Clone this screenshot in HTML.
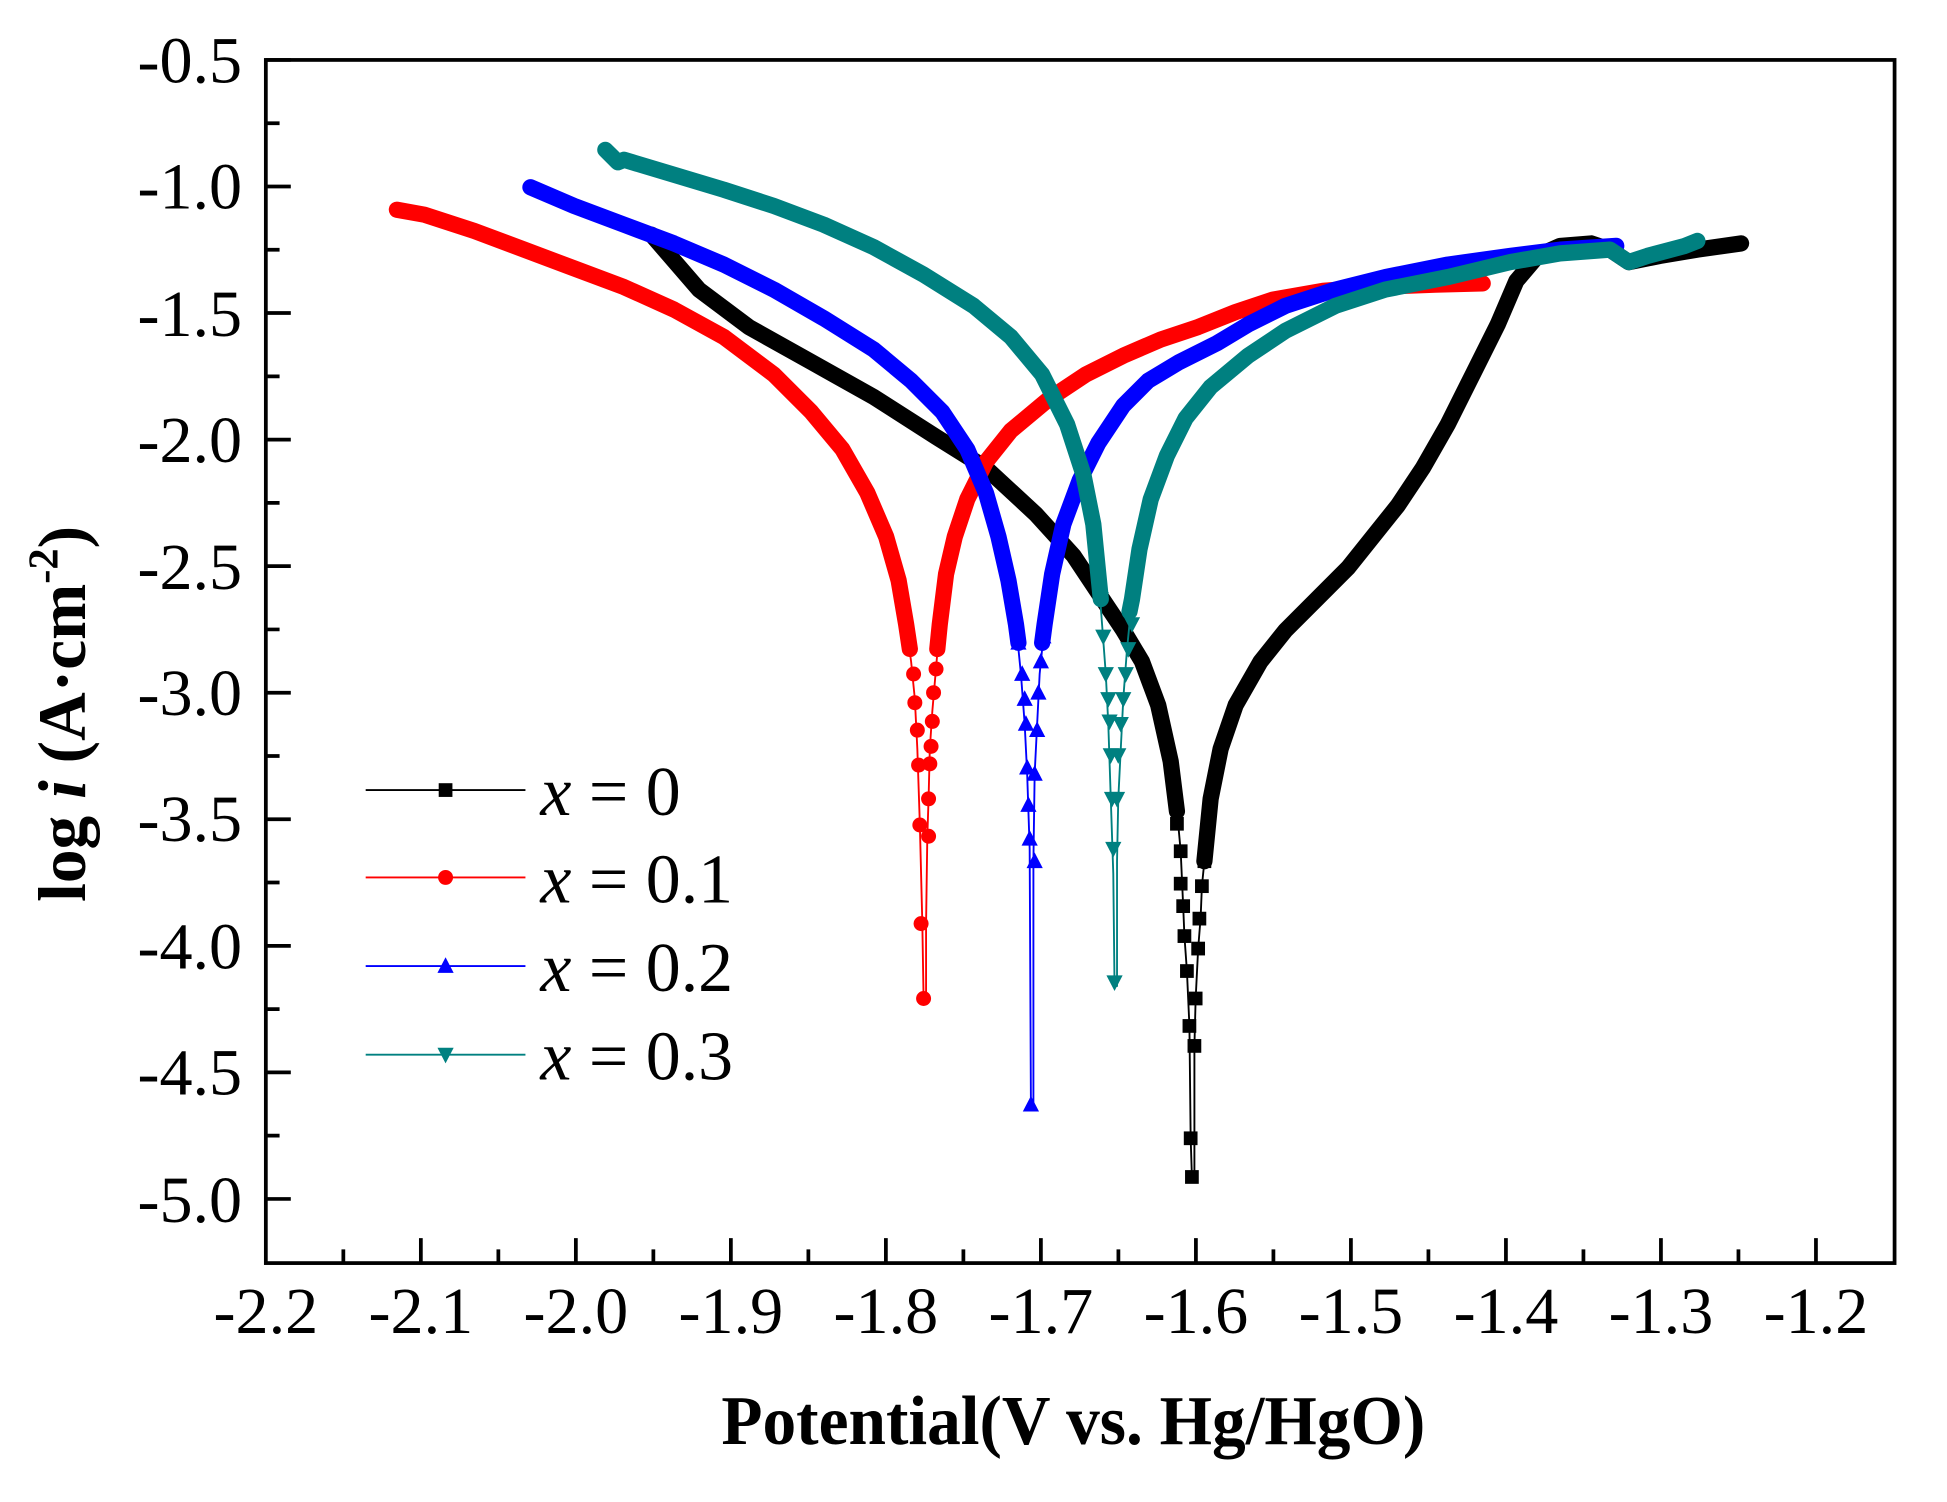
<!DOCTYPE html>
<html><head><meta charset="utf-8"><style>html,body{margin:0;padding:0;background:#fff}svg{display:block}</style></head>
<body>
<svg width="1947" height="1502" viewBox="0 0 1560 1203.4" xmlns="http://www.w3.org/2000/svg" font-family="'Liberation Serif', serif">
<defs>
<rect id="sq" x="-5.5" y="-5.5" width="11" height="11" fill="#000"/>
<circle id="ci" r="6" fill="#f00"/>
<polygon id="tu" points="0,-7 6.5,5.5 -6.5,5.5" fill="#00f"/>
<polygon id="td" points="0,7 6.5,-5.5 -6.5,-5.5" fill="#008080"/>
</defs>
<rect width="1560" height="1204" fill="#fff"/>
<rect x="213" y="48" width="1305" height="964" fill="none" stroke="#000" stroke-width="3"/>
<g stroke="#000" stroke-width="3">
<path d="M213 48h20M213 149.4h20M213 250.8h20M213 352.2h20M213 453.6h20M213 555h20M213 656.4h20M213 757.8h20M213 859.2h20M213 960.6h20"/>
<path d="M213 98.7h11M213 200.1h11M213 301.5h11M213 402.9h11M213 504.3h11M213 605.7h11M213 707.1h11M213 808.5h11M213 909.9h11"/>
<path d="M337.2 1012v-20M461.4 1012v-20M585.6 1012v-20M709.8 1012v-20M834 1012v-20M958.2 1012v-20M1082.4 1012v-20M1206.6 1012v-20M1330.8 1012v-20M1455 1012v-20"/>
<path d="M275.1 1012v-11M399.3 1012v-11M523.5 1012v-11M647.7 1012v-11M771.9 1012v-11M896.1 1012v-11M1020.3 1012v-11M1144.5 1012v-11M1268.7 1012v-11M1392.9 1012v-11"/>
</g>
<g font-size="53" text-anchor="end" fill="#000">
<text x="194" y="66">-0.5</text><text x="194" y="167">-1.0</text><text x="194" y="269">-1.5</text><text x="194" y="370">-2.0</text><text x="194" y="472">-2.5</text><text x="194" y="573">-3.0</text><text x="194" y="674">-3.5</text><text x="194" y="776">-4.0</text><text x="194" y="877">-4.5</text><text x="194" y="979">-5.0</text>
</g>
<g font-size="53" text-anchor="middle" fill="#000">
<text x="213" y="1068">-2.2</text><text x="337.2" y="1068">-2.1</text><text x="461.4" y="1068">-2.0</text><text x="585.6" y="1068">-1.9</text><text x="709.8" y="1068">-1.8</text><text x="834" y="1068">-1.7</text><text x="958.2" y="1068">-1.6</text><text x="1082.4" y="1068">-1.5</text><text x="1206.6" y="1068">-1.4</text><text x="1330.8" y="1068">-1.3</text><text x="1455" y="1068">-1.2</text>
</g>
<text x="860" y="1157" font-size="56" font-weight="bold" text-anchor="middle" textLength="564" lengthAdjust="spacingAndGlyphs">Potential(V vs. Hg/HgO)</text>
<text transform="translate(68,572) rotate(-90)" font-size="54" font-weight="bold" text-anchor="middle">log <tspan font-style="italic">i</tspan> (A·cm<tspan font-size="34" dy="-22">-2</tspan><tspan dy="22">)</tspan></text>

<g fill="none" stroke-linejoin="round" stroke-linecap="round">
<polyline stroke="#000" stroke-width="1.5" points="522,188 560,232 600,262 650,290 700,318 750,350 790,375 830,412 860,445 880,475 900,505 915,530 928,565 938,610 944,660 946,682 948,726 949,750 951,778 953,822 954,912 955,943 957,940 957,838 958,800 960,760 962,735 963,710 965,690 970,640"/>
<polyline stroke="#000" stroke-width="13" points="522,188 560,232 600,262 650,290 700,318 750,350 790,375 830,412 860,445 880,475 900,505 915,530 928,565 938,610 943,650"/>
<polyline stroke="#000" stroke-width="13" points="965,690 970,640 978,600 990,565 1010,530 1030,505 1055,480 1080,455 1100,430 1120,405 1140,375 1160,340 1180,300 1200,260 1215,225 1232,205 1250,197 1275,195 1290,200 1305,210 1330,205 1360,200 1395,195"/>
<polyline stroke="#f00" stroke-width="1.5" points="726,500 730,530 733,560 735,600 737,660 739,740 740,800 742,800 742,740 743,670 744,640 745,600 747,570 750,535 753,500"/>
<polyline stroke="#f00" stroke-width="13" points="318,168 340,172 380,185 420,200 460,215 500,230 540,248 580,270 620,300 650,330 675,360 695,395 710,430 720,465 726,500 729,520"/>
<polyline stroke="#f00" stroke-width="13" points="751,520 753,500 758,460 765,430 775,400 790,370 810,345 840,320 870,300 900,285 930,272 960,262 990,250 1020,240 1060,233 1100,230 1150,228 1188,227"/>
<polyline stroke="#00f" stroke-width="1.5" points="814,500 818,540 821,580 823,620 825,680 826,885 828,885 828,690 829,620 831,580 833,540 837,500"/>
<polyline stroke="#00f" stroke-width="13" points="425,150 460,165 500,180 540,195 580,212 620,232 660,255 700,280 730,305 755,330 775,360 790,395 800,430 808,465 814,500 816,515"/>
<polyline stroke="#00f" stroke-width="13" points="835,515 837,500 843,460 852,420 865,385 880,355 900,325 920,305 945,290 975,275 1000,260 1030,245 1070,232 1110,222 1160,212 1210,205 1250,200 1295,197"/>
<polyline stroke="#008080" stroke-width="1.5" points="880,460 883,500 886,540 888,580 890,640 892,700 893,790 895,790 895,690 896,640 898,600 900,560 903,520 907,480"/>
<polyline stroke="#008080" stroke-width="13" points="485,120 490,125 495,130 500,128 540,140 580,152 620,165 660,180 700,198 740,220 780,245 810,270 835,300 855,340 868,380 876,420 880,460 882,480"/>
<polyline stroke="#008080" stroke-width="13" points="905,490 907,480 913,440 922,400 935,365 950,335 970,310 1000,285 1030,265 1070,245 1110,232 1160,222 1210,210 1250,203 1290,200 1305,210 1320,205 1350,197 1360,193"/>
</g>
<g>
<use href="#sq" x="943" y="660"/><use href="#sq" x="946" y="682"/><use href="#sq" x="946" y="708"/><use href="#sq" x="948" y="726"/><use href="#sq" x="949" y="750"/><use href="#sq" x="951" y="778"/><use href="#sq" x="953" y="822"/><use href="#sq" x="954" y="912"/><use href="#sq" x="955" y="943"/>
<use href="#sq" x="957" y="838"/><use href="#sq" x="958" y="800"/><use href="#sq" x="960" y="760"/><use href="#sq" x="961" y="736"/><use href="#sq" x="963" y="710"/><use href="#sq" x="965" y="690"/><use href="#sq" x="967" y="665"/>
<use href="#ci" x="729" y="520"/><use href="#ci" x="732" y="540"/><use href="#ci" x="733" y="563"/><use href="#ci" x="735" y="585"/><use href="#ci" x="736" y="613"/><use href="#ci" x="737" y="661"/><use href="#ci" x="738" y="740"/><use href="#ci" x="740" y="800"/>
<use href="#ci" x="744" y="670"/><use href="#ci" x="744" y="640"/><use href="#ci" x="745" y="612"/><use href="#ci" x="746" y="598"/><use href="#ci" x="747" y="578"/><use href="#ci" x="748" y="555"/><use href="#ci" x="750" y="536"/>
<use href="#tu" x="816" y="515"/><use href="#tu" x="819" y="540"/><use href="#tu" x="821" y="560"/><use href="#tu" x="822" y="580"/><use href="#tu" x="823" y="615"/><use href="#tu" x="824" y="645"/><use href="#tu" x="825" y="672"/><use href="#tu" x="826" y="885"/>
<use href="#tu" x="829" y="690"/><use href="#tu" x="829" y="620"/><use href="#tu" x="831" y="585"/><use href="#tu" x="832" y="555"/><use href="#tu" x="834" y="530"/><use href="#tu" x="836" y="510"/>
<use href="#td" x="882" y="480"/><use href="#td" x="884" y="510"/><use href="#td" x="886" y="540"/><use href="#td" x="888" y="560"/><use href="#td" x="889" y="578"/><use href="#td" x="890" y="605"/><use href="#td" x="891" y="640"/><use href="#td" x="892" y="680"/><use href="#td" x="893" y="787"/>
<use href="#td" x="895" y="640"/><use href="#td" x="896" y="605"/><use href="#td" x="898" y="580"/><use href="#td" x="900" y="560"/><use href="#td" x="902" y="540"/><use href="#td" x="904" y="520"/><use href="#td" x="907" y="500"/>
</g>
<g stroke-width="1.5">
<line x1="293" y1="633" x2="421" y2="633" stroke="#000"/>
<line x1="293" y1="703" x2="421" y2="703" stroke="#f00"/>
<line x1="293" y1="774" x2="421" y2="774" stroke="#00f"/>
<line x1="293" y1="845" x2="421" y2="845" stroke="#008080"/>
</g>
<use href="#sq" x="357" y="633"/><use href="#ci" x="357" y="703"/><use href="#tu" x="357" y="774"/><use href="#td" x="357" y="845"/>
<g font-size="56" fill="#000">
<text x="433" y="653"><tspan font-style="italic">x</tspan> = 0</text>
<text x="433" y="723"><tspan font-style="italic">x</tspan> = 0.1</text>
<text x="433" y="794"><tspan font-style="italic">x</tspan> = 0.2</text>
<text x="433" y="865"><tspan font-style="italic">x</tspan> = 0.3</text>
</g>
</svg>
</body></html>
